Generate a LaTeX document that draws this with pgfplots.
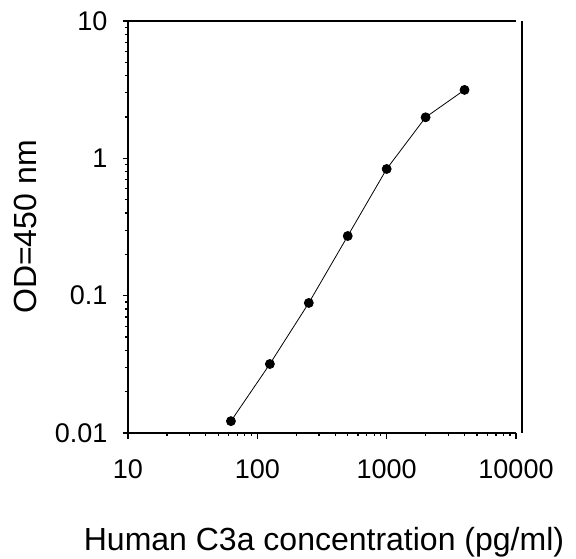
\documentclass[border=0pt]{standalone}
\usepackage{pgfplots}
\pgfplotsset{compat=1.18}
\usepackage{fontspec}
\setmainfont{Liberation Sans}

\pgfplotstableread{
conc od
62.5 0.0122
125 0.0318
250 0.0885
500 0.272
1000 0.837
2000 1.99
4000 3.15
}\standard

\begin{document}
\begin{tikzpicture}
\path[use as bounding box] (-128bp,-126bp) rectangle (448bp,433bp);
\begin{axis}[
  scale only axis,
  width=388bp, height=412bp,
  xmode=log, ymode=log,
  xmin=10, xmax=10000,
  ymin=0.01, ymax=10,
  axis x line*=bottom,
  axis y line*=left,
  axis line style={-, line width=1.2bp, black},
  tick align=outside,
  major tick length=5.5bp,
  tick style={line width=1.2bp, black},
  minor tick num=0,
  xtick={10,100,1000,10000},
  xticklabels={10,100,1000,10000},
  ytick={0.01,0.1,1,10},
  yticklabels={0.01,0.1,1,10},
  /pgf/number format/assume math mode=true,
  ticklabel style={font=\fontsize{27bp}{30bp}\selectfont, inner sep=0pt},
  xticklabel style={anchor=north, yshift=-21bp},
  yticklabel style={anchor=east, xshift=-15bp},
  label style={font=\fontsize{32bp}{36bp}\selectfont},
  xlabel={Human C3a concentration (pg/ml)},
  ylabel={OD=450 nm},
  xlabel style={at={(axis description cs:0.5,0)}, anchor=base, yshift=-117bp, xshift=2bp, inner sep=0pt},
  ylabel style={at={(axis description cs:0,0.5)}, anchor=center, yshift=103bp, inner sep=0pt},
  clip=false,
]
\addplot[black, line width=0.8bp, mark=*, mark size=4.5bp, mark options={fill=black}] table[x=conc, y=od] {\standard};
\draw[line width=1.2bp] ([xshift=-5.5bp]rel axis cs:0,1) -- (rel axis cs:1,1);
\draw[line width=1.2bp] ([xshift=6bp]rel axis cs:1,1) -- ([xshift=6bp]rel axis cs:1,0);
\end{axis}
\end{tikzpicture}
\end{document}
